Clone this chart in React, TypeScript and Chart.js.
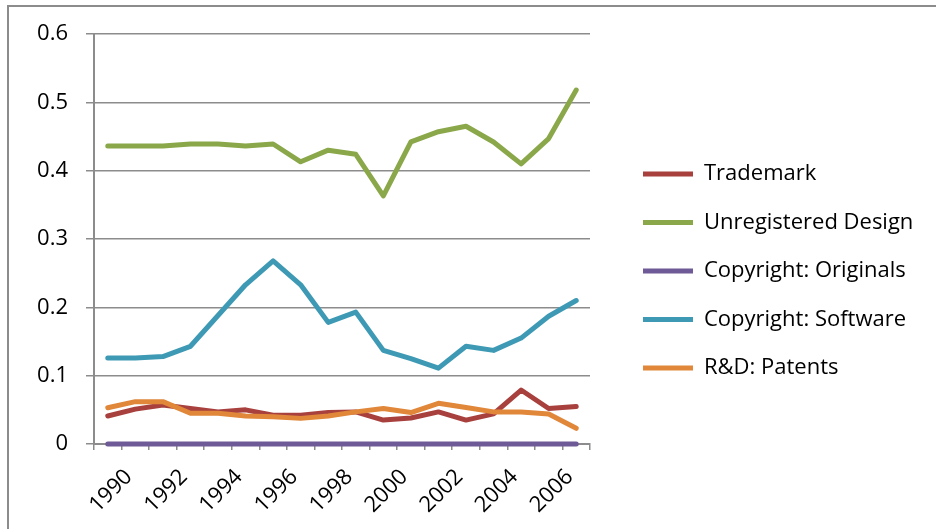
import React, { useEffect, useRef } from 'react';
import { Chart, registerables } from 'chart.js';

Chart.register(...registerables);

const years = ['1990', '1991', '1992', '1993', '1994', '1995', '1996', '1997', '1998', '1999', '2000', '2001', '2002', '2003', '2004', '2005', '2006', '2007'];
const labeledYears = ['1990', '1992', '1994', '1996', '1998', '2000', '2002', '2004', '2006'];

const trademark = [0.041, 0.051, 0.057, 0.052, 0.047, 0.050, 0.042, 0.042, 0.046, 0.047, 0.035, 0.038, 0.047, 0.035, 0.044, 0.079, 0.052, 0.055];
const unregisteredDesign = [0.436, 0.436, 0.436, 0.439, 0.439, 0.436, 0.439, 0.413, 0.430, 0.424, 0.363, 0.442, 0.457, 0.465, 0.442, 0.410, 0.447, 0.518];
const copyrightOriginals = [0, 0, 0, 0, 0, 0, 0, 0, 0, 0, 0, 0, 0, 0, 0, 0, 0, 0];
const copyrightSoftware = [0.126, 0.126, 0.128, 0.143, 0.188, 0.233, 0.268, 0.233, 0.178, 0.193, 0.137, 0.125, 0.111, 0.143, 0.137, 0.155, 0.187, 0.210];
const rdPatents = [0.053, 0.062, 0.062, 0.045, 0.045, 0.041, 0.040, 0.0375, 0.041, 0.047, 0.052, 0.046, 0.0595, 0.0535, 0.047, 0.047, 0.044, 0.023];

const seriesNames = ['Trademark', 'Unregistered Design', 'Copyright: Originals', 'Copyright: Software', 'R&D: Patents'];
const seriesData = [trademark, unregisteredDesign, copyrightOriginals, copyrightSoftware, rdPatents];
const seriesColors = ['#a8413e', '#8aa84a', '#6e5a96', '#3e9ab4', '#e0873a'];

const FONT = "'Open Sans', 'DejaVu Sans', sans-serif";
const GRID = '#8c8c8c';

const legendPlacement = {
  id: 'legendPlacement',
  beforeLayout(chart: any) {
    const lg = chart.legend;
    if (lg && !lg.__patched) {
      const orig = lg.fit;
      lg.fit = function () {
        orig.call(this);
        this.width = 346;
      };
      lg.__patched = true;
    }
  },
  afterLayout(chart: any) {
    const lg = chart.legend;
    if (!lg) return;
    const pad = lg.options.labels.padding;
    const left = 643 - pad;
    lg.left = left;
    lg.right = left + lg.width;
    const h = lg.height;
    lg.top = 271 - h / 2;
    lg.bottom = lg.top + h;
  },
};

export default function App() {
  const ref = useRef<HTMLCanvasElement>(null);

  useEffect(() => {
    Chart.defaults.font.family = FONT;
    const chart = new Chart(ref.current as HTMLCanvasElement, {
      type: 'line',
      data: {
        labels: years,
        datasets: seriesNames.map((name, i) => ({
          label: name,
          data: seriesData[i],
          borderColor: seriesColors[i],
          backgroundColor: seriesColors[i],
          borderWidth: 5,
          pointRadius: 0,
          pointHoverRadius: 0,
          tension: 0,
          fill: false,
          clip: false,
          borderCapStyle: 'round',
          borderJoinStyle: 'round',
          order: seriesNames.length - 1 - i,
        })),
      },
      options: {
        responsive: false,
        animation: false,
        devicePixelRatio: 1,
        events: [],
        layout: { padding: { top: 34, left: 0, right: 0, bottom: 0 } },
        plugins: {
          tooltip: { enabled: false },
          legend: {
            position: 'right',
            align: 'center',
            labels: {
              sort: (a: any, b: any) => a.datasetIndex - b.datasetIndex,
              usePointStyle: true,
              pointStyle: 'line',
              pointStyleWidth: 50,
              padding: 26.5,
              color: '#000',
              font: { family: FONT, size: 22 },
            },
          },
        },
        scales: {
          x: {
            type: 'category',
            offset: true,
            grid: {
              display: true,
              offset: true,
              drawOnChartArea: false,
              drawTicks: true,
              tickLength: 6,
              color: GRID,
              lineWidth: 1.5,
            },
            border: { display: true, color: GRID, width: 2 },
            ticks: {
              autoSkip: false,
              minRotation: 45,
              maxRotation: 45,
              labelOffset: 21,
              padding: 14,
              color: '#000',
              font: { family: FONT, size: 22 },
              callback: (_v: any, index: number) => {
                const l = years[index];
                return labeledYears.includes(l) ? l : '';
              },
            },
            afterFit: (s: any) => {
              s.height = 85;
            },
          },
          y: {
            min: 0,
            max: 0.6,
            ticks: {
              stepSize: 0.1,
              padding: 18,
              color: '#000',
              font: { family: FONT, size: 22 },
              callback: (v: any) => String(Math.round(Number(v) * 10) / 10),
            },
            grid: { color: GRID, lineWidth: 1.5, tickLength: 8, drawTicks: true },
            border: { display: true, color: GRID, width: 2 },
            afterFit: (s: any) => {
              s.width = 94;
            },
          },
        },
      },
      plugins: [legendPlacement],
    } as any);
    return () => chart.destroy();
  }, []);

  return (
    <div style={{ position: 'absolute', left: 0, top: 0, width: 936, height: 529, overflow: 'hidden', background: '#fff' }}>
      <div
        style={{
          position: 'absolute',
          left: 7,
          top: 5,
          width: 2000,
          height: 2000,
          borderLeft: '2px solid #8c8c8c',
          borderTop: '2px solid #8c8c8c',
        }}
      />
      <canvas ref={ref} width={936} height={529} style={{ position: 'absolute', left: 0, top: 0 }} />
    </div>
  );
}
